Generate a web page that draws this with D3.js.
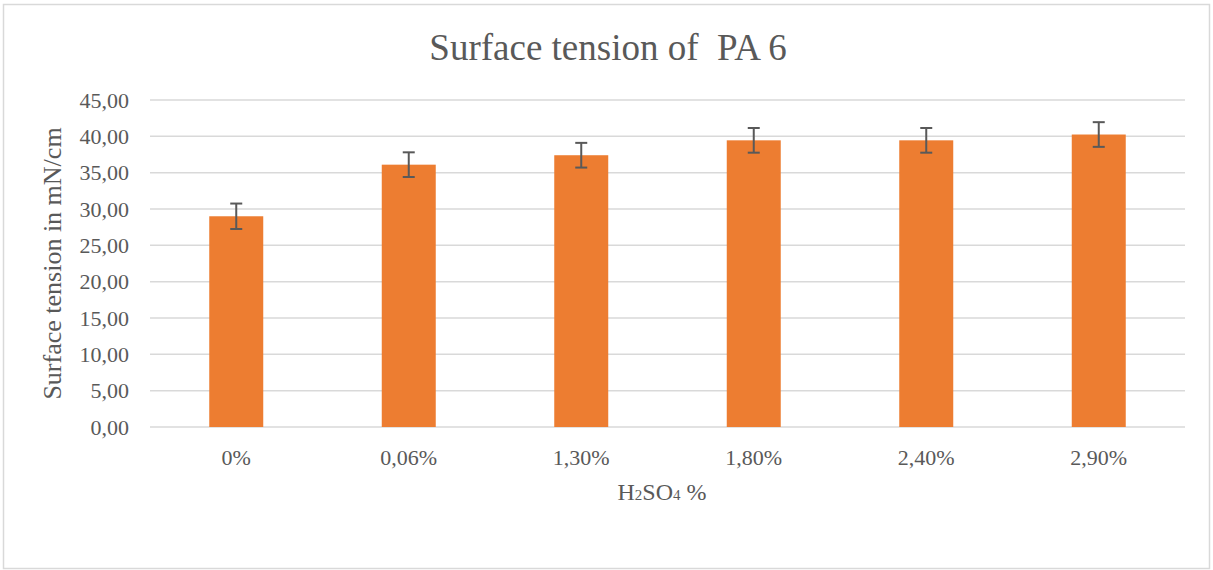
<!DOCTYPE html>
<html><head><meta charset="utf-8">
<script src="https://cdn.jsdelivr.net/npm/d3@7"></script>
<style>body{margin:0;background:#fff}svg{display:block}</style>
</head><body><svg id="c" width="1213" height="570"></svg>
<script>
const categories = ["0%", "0,06%", "1,30%", "1,80%", "2,40%", "2,90%"];
const values = [29.0, 36.1, 37.4, 39.45, 39.45, 40.25];
const errors = [1.75, 1.7, 1.7, 1.7, 1.7, 1.7];
const yTicks = [0, 5, 10, 15, 20, 25, 30, 35, 40, 45];

const svg = d3.select("#c");
const W = 1213, H = 570;
const m = {left: 150, right: 28, top: 100, bottom: 143};
const font = "'Liberation Serif', 'Times New Roman', serif";
const txt = "#595959";

svg.append("rect").attr("x", 3.5).attr("y", 4.5).attr("width", W - 7).attr("height", H - 6)
  .attr("fill", "#fff").attr("stroke", "#d9d9d9").attr("stroke-width", 1.5);

const x = d3.scaleBand().domain(categories).range([m.left, W - m.right]).paddingInner(0.687).paddingOuter(0.3435);
const y = d3.scaleLinear().domain([0, 45]).range([H - m.bottom, m.top]);

const g = svg.append("g");
g.selectAll("line.grid").data(yTicks).join("line")
  .attr("x1", m.left).attr("x2", W - m.right)
  .attr("y1", d => y(d)).attr("y2", d => y(d))
  .attr("stroke", "#d9d9d9").attr("stroke-width", 1.5);

const yAxis = d3.axisLeft(y).tickValues(yTicks).tickSize(0).tickPadding(21)
  .tickFormat(d => d3.format(".2f")(d).replace(".", ","));
const ya = svg.append("g").attr("transform", `translate(${m.left},0)`).call(yAxis);
ya.select(".domain").remove();
ya.selectAll("text").attr("font-family", font).attr("font-size", 22).attr("fill", txt);

const xAxis = d3.axisBottom(x).tickSize(0).tickPadding(22);
const xa = svg.append("g").attr("transform", `translate(0,${y(0)})`).call(xAxis);
xa.select(".domain").remove();
xa.selectAll("text").attr("font-family", font).attr("font-size", 22).attr("fill", txt);

g.selectAll("rect.bar").data(categories).join("rect")
  .attr("x", d => x(d)).attr("width", x.bandwidth())
  .attr("y", (d, i) => y(values[i])).attr("height", (d, i) => y(0) - y(values[i]))
  .attr("fill", "#ED7D31");

const eb = g.selectAll("g.err").data(categories).join("g");
const cx = d => x(d) + x.bandwidth() / 2;
eb.append("line")
  .attr("x1", cx).attr("x2", cx)
  .attr("y1", (d, i) => y(values[i] + errors[i])).attr("y2", (d, i) => y(values[i] - errors[i]));
eb.append("line")
  .attr("x1", d => cx(d) - 6).attr("x2", d => cx(d) + 6)
  .attr("y1", (d, i) => y(values[i] + errors[i])).attr("y2", (d, i) => y(values[i] + errors[i]));
eb.append("line")
  .attr("x1", d => cx(d) - 6).attr("x2", d => cx(d) + 6)
  .attr("y1", (d, i) => y(values[i] - errors[i])).attr("y2", (d, i) => y(values[i] - errors[i]));
eb.selectAll("line").attr("stroke", "#595959").attr("stroke-width", 2);

svg.append("text").attr("x", 608).attr("y", 60).attr("text-anchor", "middle")
  .attr("font-family", font).attr("font-size", 37).attr("fill", txt)
  .style("white-space", "pre")
  .text("Surface tension of  PA 6");

svg.append("text").attr("transform", `translate(61,${(y(0) + y(45)) / 2}) rotate(-90)`)
  .attr("text-anchor", "middle").attr("font-family", font).attr("font-size", 26).attr("fill", txt)
  .text("Surface tension in mN/cm");

const xt = svg.append("text").attr("x", 662).attr("y", 500)
  .attr("text-anchor", "middle").attr("font-family", font).attr("font-size", 24).attr("fill", txt);
xt.append("tspan").text("H");
xt.append("tspan").attr("font-size", 15).text("2");
xt.append("tspan").text("SO");
xt.append("tspan").attr("font-size", 15).text("4");
xt.append("tspan").text(" %");
</script>
</body></html>
